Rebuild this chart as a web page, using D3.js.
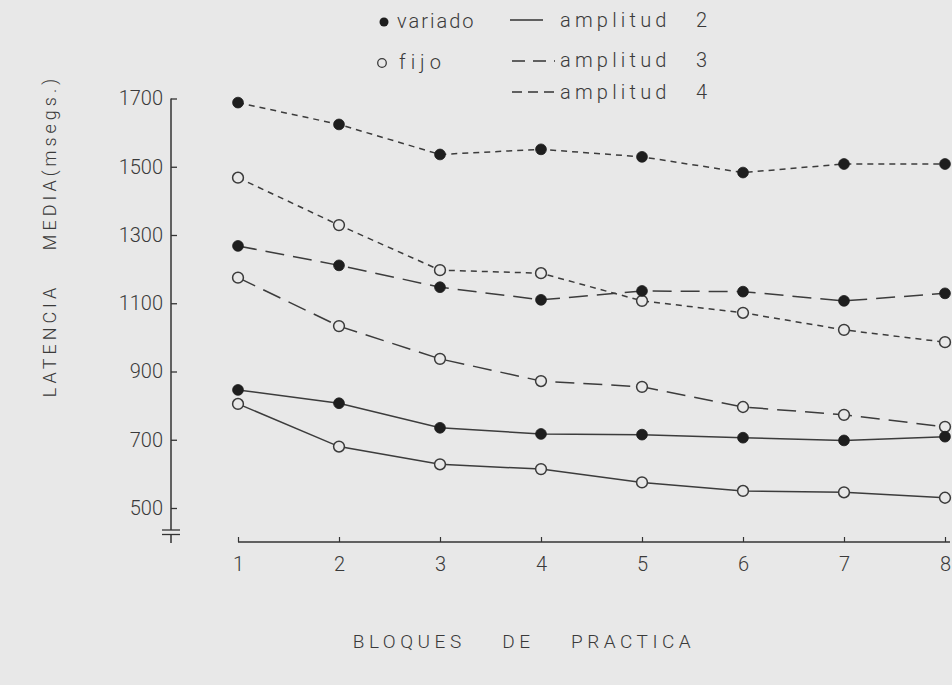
<!DOCTYPE html>
<html>
<head>
<meta charset="utf-8">
<script src="https://cdn.jsdelivr.net/npm/d3@7/dist/d3.min.js"></script>
<style>
  html, body { margin: 0; padding: 0; background: #e8e8e8; }
  svg { display: block; }
  text { font-family: Roboto, "DejaVu Sans", sans-serif; font-weight: 300; fill: #3a3a3a; }
</style>
</head>
<body>
<svg id="chart" width="952" height="685"></svg>
<script>
// Practice blocks on the horizontal axis
const blocks = ["1", "2", "3", "4", "5", "6", "7", "8"];

// Mean latency (msec) per block, varied vs. fixed condition, by amplitude
const variadoAmp2 = [846, 807, 735, 717, 715, 706, 698, 709];
const fijoAmp2    = [805, 680, 628, 614, 575, 550, 546, 530];
const variadoAmp3 = [1268, 1211, 1147, 1110, 1136, 1134, 1107, 1129];
const fijoAmp3    = [1175, 1033, 937, 872, 855, 796, 773, 738];
const variadoAmp4 = [1688, 1624, 1536, 1551, 1529, 1483, 1508, 1508];
const fijoAmp4    = [1468, 1329, 1197, 1188, 1107, 1072, 1022, 986];

const yTicks = [500, 700, 900, 1100, 1300, 1500, 1700];

const series = [
  { values: variadoAmp4, filled: true,  dash: "6,5" },
  { values: fijoAmp4,    filled: false, dash: "6,5" },
  { values: variadoAmp3, filled: true,  dash: "19,9" },
  { values: fijoAmp3,    filled: false, dash: "19,9" },
  { values: variadoAmp2, filled: true,  dash: null },
  { values: fijoAmp2,    filled: false, dash: null }
];

const ink = "#333";
const svg = d3.select("#chart");

const x = d3.scalePoint().domain(blocks).range([238, 945]);
const y = d3.scaleLinear().domain([500, 1700]).range([508, 98.5]);

const axisX = 171;
const baseY = 542;

// Vertical axis with ticks pointing inward, labels on the left
const yAxis = svg.append("g")
  .attr("transform", `translate(${axisX},0)`)
  .call(d3.axisLeft(y).tickValues(yTicks).tickFormat(d3.format("d"))
    .tickSizeInner(-6).tickSizeOuter(0).tickPadding(8));
yAxis.select(".domain").remove();
yAxis.selectAll(".tick line").attr("stroke", ink).attr("stroke-width", 1.3);
yAxis.selectAll(".tick text")
  .style("font-size", "20px").style("font-family", "Roboto, sans-serif")
  .style("font-weight", "300").attr("fill", "#3a3a3a");

// Axis spine, broken near the origin
svg.append("line").attr("x1", axisX).attr("x2", axisX)
  .attr("y1", y(1700)).attr("y2", 530).attr("stroke", ink).attr("stroke-width", 1.5);
svg.append("line").attr("x1", axisX).attr("x2", axisX)
  .attr("y1", 534.5).attr("y2", baseY + 1).attr("stroke", ink).attr("stroke-width", 1.5);
[530, 534.5].forEach(v => {
  svg.append("line").attr("x1", axisX - 9).attr("x2", axisX + 9)
    .attr("y1", v).attr("y2", v).attr("stroke", ink).attr("stroke-width", 1.3);
});

// Horizontal axis
const xAxis = svg.append("g")
  .attr("transform", `translate(0,${baseY})`)
  .call(d3.axisBottom(x).tickSizeInner(-5).tickSizeOuter(0).tickPadding(15));
xAxis.select(".domain").remove();
xAxis.selectAll(".tick line").attr("stroke", ink).attr("stroke-width", 1.2);
xAxis.selectAll(".tick text")
  .style("font-size", "20px").style("font-family", "Roboto, sans-serif")
  .style("font-weight", "300").attr("fill", "#3a3a3a");
svg.append("line").attr("x1", x("1")).attr("x2", 950)
  .attr("y1", baseY).attr("y2", baseY).attr("stroke", ink).attr("stroke-width", 1.5);

// Lines and markers
const line = d3.line().x((d, i) => x(blocks[i])).y(d => y(d));
const plot = svg.append("g");
series.forEach(s => {
  plot.append("path").datum(s.values)
    .attr("d", line).attr("fill", "none")
    .attr("stroke", "#3c3c3c").attr("stroke-width", 1.5)
    .attr("stroke-dasharray", s.dash);
});
series.forEach(s => {
  plot.selectAll(null).data(s.values).enter().append("circle")
    .attr("cx", (d, i) => x(blocks[i])).attr("cy", d => y(d))
    .attr("r", 5.4)
    .attr("fill", s.filled ? "#1e1e1e" : "#e8e8e8")
    .attr("stroke", s.filled ? "#1e1e1e" : "#3a3a3a")
    .attr("stroke-width", s.filled ? 0.8 : 1.5);
});

// Legend
const legend = svg.append("g");
const legendText = (tx, ty, str, spacing) =>
  legend.append("text").attr("x", tx).attr("y", ty).text(str)
    .style("font-size", "20px").style("letter-spacing", spacing + "px");

legend.append("circle").attr("cx", 384).attr("cy", 22).attr("r", 4.5).attr("fill", "#1e1e1e");
legendText(397, 28, "variado", 2);
legend.append("circle").attr("cx", 382).attr("cy", 63).attr("r", 4.3)
  .attr("fill", "none").attr("stroke", "#3a3a3a").attr("stroke-width", 1.3);
legendText(399, 69, "fijo", 5);

legend.append("line").attr("x1", 510).attr("x2", 543).attr("y1", 20).attr("y2", 20)
  .attr("stroke", ink).attr("stroke-width", 1.4);
legend.append("line").attr("x1", 512).attr("x2", 555).attr("y1", 61).attr("y2", 61)
  .attr("stroke", ink).attr("stroke-width", 1.4).attr("stroke-dasharray", "13,8");
legend.append("line").attr("x1", 512).attr("x2", 555).attr("y1", 92).attr("y2", 92)
  .attr("stroke", ink).attr("stroke-width", 1.4).attr("stroke-dasharray", "10,6");

legendText(560, 27, "amplitud", 4.2);
legendText(696, 27, "2", 0);
legendText(560, 67, "amplitud", 4.2);
legendText(696, 67, "3", 0);
legendText(560, 99, "amplitud", 4.2);
legendText(696, 99, "4", 0);

// Axis titles
svg.append("text")
  .attr("transform", "translate(56,236) rotate(-90)")
  .attr("text-anchor", "middle")
  .style("font-size", "18px").style("letter-spacing", "4px")
  .style("white-space", "pre")
  .text("LATENCIA    MEDIA(msegs.)");

svg.append("text")
  .attr("x", 524).attr("y", 648)
  .attr("text-anchor", "middle")
  .style("font-size", "19px").style("letter-spacing", "4.5px")
  .style("white-space", "pre")
  .text("BLOQUES    DE    PRACTICA");
</script>
</body>
</html>
